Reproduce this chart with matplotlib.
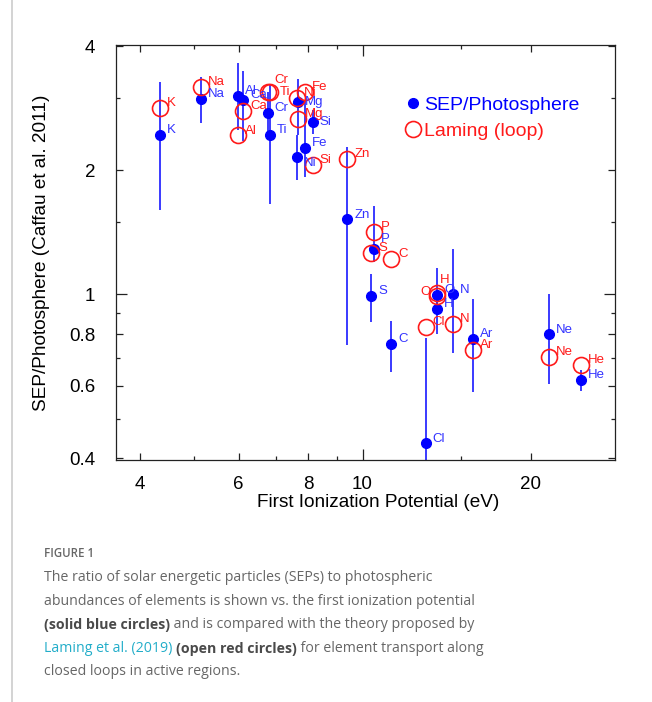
import matplotlib

matplotlib.use("Agg")

import matplotlib.pyplot as plt
import numpy as np
from matplotlib.ticker import FixedLocator, FixedFormatter, NullFormatter

plt.rcParams["font.family"] = ["Liberation Sans", "DejaVu Sans"]

# element, first ionization potential (eV)
elements = ["K", "Na", "Al", "Ca", "Cr", "Ti", "Mg", "Ni", "Fe", "Si", "Zn",
            "P", "S", "C", "Cl", "H", "O", "N", "Ar", "Ne", "He"]
fip = [4.34, 5.14, 5.99, 6.11, 6.77, 6.83, 7.65, 7.64, 7.90, 8.15, 9.39,
       10.49, 10.36, 11.26, 12.97, 13.60, 13.62, 14.53, 15.76, 21.56, 24.59]

# SEP / photosphere ratio with error bar ends
sep = [2.44, 2.98, 3.03, 2.96, 2.76, 2.44, 2.93, 2.15, 2.27, 2.62, 1.52,
       1.29, 0.99, 0.76, 0.435, 0.92, 0.995, 1.0, 0.78, 0.80, 0.62]
sep_lo = [1.60, 2.60, 2.50, 2.35, 2.45, 1.66, 2.43, 1.89, 1.93, 2.45, 0.755,
          1.20, 0.855, 0.65, 0.30, 0.80, 0.92, 0.72, 0.58, 0.607, 0.584]
sep_hi = [3.28, 3.36, 3.64, 3.48, 3.10, 3.22, 3.34, 2.43, 2.96, 2.80, 2.28,
          1.64, 1.12, 0.86, 0.784, 1.02, 1.16, 1.29, 0.976, 1.0, 0.656]

# Laming et al. (2019) closed-loop model
laming = [2.84, 3.19, 2.43, 2.79, 3.09, 3.10, 2.66, 3.00, 3.10, 2.06, 2.13,
          1.42, 1.26, 1.22, 0.834, 1.01, 0.99, 0.85, 0.734, 0.705, 0.675]

x_ticks = [4, 6, 8, 10, 20]
x_minor = [5, 7, 9, 15]
y_ticks = [0.4, 0.6, 0.8, 1, 2, 4]
y_tick_labels = ["0.4", "0.6", "0.8", "1", "2", "4"]
y_minor = [0.5, 0.7, 0.9, 1.5, 3]

BLUE = "#0000ff"
BLUE_TXT = "#3333ff"
RED = "#ff1a1a"

# label offsets in points (default: right of marker, slightly up)
BLUE_OFF = {"Mg": (5, 0), "Si": (5, 0), "Ni": (5, -4), "P": (5, 7)}
RED_OFF = {"Cr": (5, 9), "Ti": (7, 0), "H": (2, 9), "O": (-5, 3)}

fig = plt.figure(figsize=(6.52, 7.02), dpi=100)
ax = fig.add_axes([0.178, 0.345, 0.765, 0.591])

sep = np.array(sep)
yerr = [sep - np.array(sep_lo), np.array(sep_hi) - sep]
eb = ax.errorbar(fip, sep, yerr=yerr, fmt="o", color=BLUE, ms=7, mec=BLUE,
                 elinewidth=1.3, ecolor="#2b2bff", capsize=0, zorder=2)
(lam_line,) = ax.plot(fip, laming, "o", mfc="none", mec=RED, mew=1.2, ms=11.5,
                      linestyle="none", zorder=3)

for name, x, y in zip(elements, fip, sep):
    dx, dy = BLUE_OFF.get(name, (5, 3.5))
    ax.annotate(name, (x, y), xytext=(dx, dy), textcoords="offset points",
                ha="left", va="center", fontsize=9.5, color=BLUE_TXT, zorder=4)
for name, x, y in zip(elements, fip, laming):
    dx, dy = RED_OFF.get(name, (5, 3.5))
    ax.annotate(name, (x, y), xytext=(dx, dy), textcoords="offset points",
                ha="right" if dx < 0 else "left", va="center", fontsize=9.5,
                color=RED, zorder=4)

ax.set_xscale("log")
ax.set_yscale("log")
ax.set_xlim(3.62, 28.3)
ax.set_ylim(0.397, 4.03)

ax.xaxis.set_major_locator(FixedLocator(x_ticks))
ax.xaxis.set_major_formatter(FixedFormatter([str(v) for v in x_ticks]))
ax.xaxis.set_minor_locator(FixedLocator(x_minor))
ax.xaxis.set_minor_formatter(NullFormatter())
ax.yaxis.set_major_locator(FixedLocator(y_ticks))
ax.yaxis.set_major_formatter(FixedFormatter(y_tick_labels))
ax.yaxis.set_minor_locator(FixedLocator(y_minor))
ax.yaxis.set_minor_formatter(NullFormatter())

ax.tick_params(which="both", direction="in", top=True, right=True, width=0.9, color="#222222")
ax.tick_params(which="major", length=5, labelsize=13.5)
ax.tick_params(which="minor", length=3)
ax.tick_params(axis="x", which="major", pad=12)
ax.tick_params(axis="y", which="major", pad=15)

# decade ticks are drawn longer
for axis, locs in ((ax.xaxis, x_ticks), (ax.yaxis, y_ticks)):
    for tick, loc in zip(axis.get_major_ticks(len(locs)), locs):
        if loc in (1, 10):
            tick.tick1line.set_markersize(8)
            tick.tick2line.set_markersize(8)

for sp in ax.spines.values():
    sp.set_linewidth(0.9)
    sp.set_color("#222222")

ax.set_xlabel("First Ionization Potential (eV)", fontsize=13.7)
ax.set_ylabel("SEP/Photosphere (Caffau et al. 2011)", fontsize=13.7)
ax.xaxis.set_label_coords(0.525, -0.082)
ax.yaxis.set_label_coords(-0.132, 0.5)

leg = ax.legend([eb.lines[0], lam_line], ["SEP/Photosphere", "Laming (loop)"],
                loc="upper left", bbox_to_anchor=(0.577, 0.877), frameon=False,
                fontsize=14, handlelength=0.9, handletextpad=0.12,
                labelspacing=0.45, borderpad=0, borderaxespad=0, numpoints=1)
for txt, c in zip(leg.get_texts(), [BLUE, RED]):
    txt.set_color(c)

# page border line on the left
fig.add_artist(plt.Line2D([0.0185, 0.0185], [0, 1], color="#c8c8c8", lw=1.1,
                          transform=fig.transFigure))

# caption
CAP_FONT = ["Open Sans", "DejaVu Sans"]
GRAY = "#666666"
DARK = "#4a4a4a"
LINK = "#22adc9"

fig.text(0.0675, 0.2066, "FIGURE 1", fontsize=8.3, color=GRAY, family=CAP_FONT,
         fontweight="semibold", va="baseline")

caption = [
    [("The ratio of solar energetic particles (SEPs) to photospheric", GRAY, "normal")],
    [("abundances of elements is shown vs. the first ionization potential", GRAY, "normal")],
    [("(solid blue circles)", DARK, "bold"),
     (" and is compared with the theory proposed by", GRAY, "normal")],
    [("Laming et al. (2019)", LINK, "normal"), (" ", GRAY, "normal"),
     ("(open red circles)", DARK, "bold"),
     (" for element transport along", GRAY, "normal")],
    [("closed loops in active regions.", GRAY, "normal")],
]
line_y = 0.166
for segs in caption:
    prev = None
    for text, color, weight in segs:
        kw = dict(fontsize=10.2, color=color, fontweight=weight, family=CAP_FONT, va="bottom")
        if prev is None:
            prev = fig.text(0.0675, line_y, text, **kw)
        else:
            prev = fig.add_artist(matplotlib.text.Annotation(
                text, xy=(1, 0), xycoords=prev, **kw))
    line_y -= 23.5 / 702

fig.savefig("out.png", dpi=100)
